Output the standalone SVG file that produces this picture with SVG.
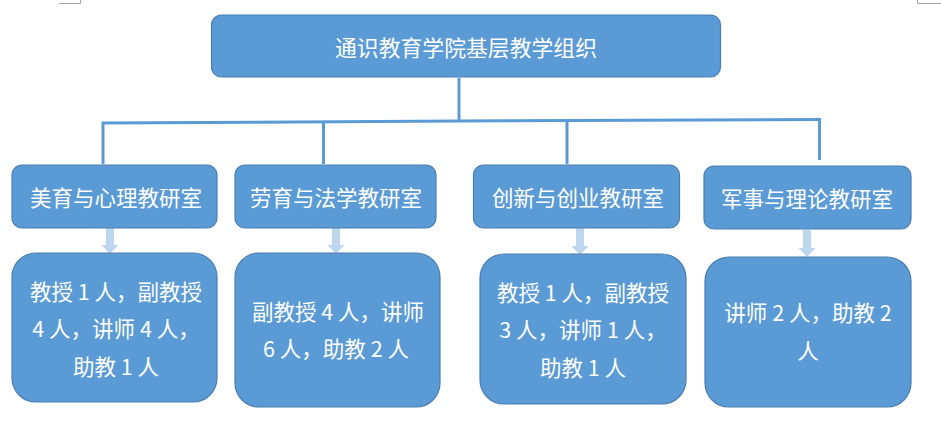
<svg xmlns="http://www.w3.org/2000/svg" width="941" height="448" viewBox="0 0 941 448">
<defs>
<style>
.box{fill:#5B9BD5;stroke:#4A7EB0;stroke-width:1.2}
.t{fill:#FFFFFF;font-family:"Noto Sans CJK SC","Liberation Sans",sans-serif;font-size:21.5px;text-anchor:middle;dominant-baseline:central}
.conn{stroke:#5B9BD5;stroke-width:3;fill:none}
.arr{fill:#BDD7EE}
.mark{stroke:#A6A6A6;stroke-width:1;fill:none}
</style>
<path id="arrowShape" d="M-4,0 L4,0 L4,18 L8.5,18 L0,27 L-8.5,18 L-4,18 Z"/>
</defs>
<rect width="941" height="448" fill="#FFFFFF"/>
<path class="mark" d="M59,3.5 H80.5 V0"/>
<path class="mark" d="M917.5,0 V3.5 H941"/>
<g id="connectors">
<path class="conn" d="M459,78 V121"/>
<path class="conn" d="M102,123 L459,121 L821,119.5"/>
<path class="conn" d="M103,122 V164"/>
<path class="conn" d="M323.5,122 V164"/>
<path class="conn" d="M567,121 V164"/>
<path class="conn" d="M819.5,119.5 V160"/>
<use href="#arrowShape" class="arr" x="110" y="227"/>
<use href="#arrowShape" class="arr" x="336" y="227"/>
<use href="#arrowShape" class="arr" x="580" y="228"/>
<use href="#arrowShape" class="arr" x="807" y="230"/>
</g>
<g id="root">
<rect class="box" x="211.5" y="15" width="509" height="62" rx="10"/>
<text class="t" x="466" y="46" textLength="262" lengthAdjust="spacingAndGlyphs">通识教育学院基层教学组织</text>
</g>
<g id="dept1">
<rect class="box" x="12" y="165" width="205" height="63" rx="10"/>
<text class="t" x="116" y="196.5">美育与心理教研室</text>
</g>
<g id="dept2">
<rect class="box" x="235" y="165" width="201" height="63" rx="10"/>
<text class="t" x="336" y="196.5">劳育与法学教研室</text>
</g>
<g id="dept3">
<rect class="box" x="473.5" y="165" width="206" height="63" rx="10"/>
<text class="t" x="578" y="196.5">创新与创业教研室</text>
</g>
<g id="dept4">
<rect class="box" x="704" y="166" width="207" height="63" rx="10"/>
<text class="t" x="807" y="197.5">军事与理论教研室</text>
</g>
<g id="staff1">
<rect class="box" x="12" y="253" width="205" height="149" rx="24"/>
<text class="t" x="116" y="290">教授 1 人，副教授</text>
<text class="t" x="116" y="327.5">4 人，讲师 4 人，</text>
<text class="t" x="116" y="365">助教 1 人</text>
</g>
<g id="staff2">
<rect class="box" x="235" y="253" width="205" height="154" rx="24"/>
<text class="t" x="338" y="310">副教授 4 人，讲师</text>
<text class="t" x="336" y="347.5">6 人，助教 2 人</text>
</g>
<g id="staff3">
<rect class="box" x="480" y="254" width="206" height="150" rx="24"/>
<text class="t" x="583" y="291">教授 1 人，副教授</text>
<text class="t" x="583" y="328.5">3 人，讲师 1 人，</text>
<text class="t" x="583" y="366">助教 1 人</text>
</g>
<g id="staff4">
<rect class="box" x="705" y="257" width="206" height="150" rx="24"/>
<text class="t" x="808" y="311">讲师 2 人，助教 2</text>
<text class="t" x="808" y="349">人</text>
</g>
</svg>
